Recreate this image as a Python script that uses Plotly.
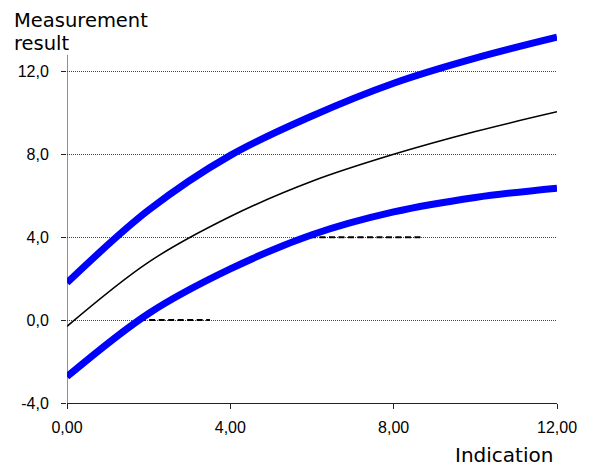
import plotly.graph_objects as go

# Data
indication = [0, 2, 4, 6, 8, 10, 12]
upper_limit = [1.8, 5.31, 7.95, 9.85, 11.43, 12.64, 13.65]
mean_curve = [-0.3, 2.8, 5.0, 6.7, 8.0, 9.1, 10.05]
lower_limit = [-2.73, 0.32, 2.47, 4.12, 5.22, 5.92, 6.37]

dash_low_x = [1.78, 3.5]
dash_low_y = [0.0, 0.0]
dash_high_x = [5.95, 8.7]
dash_high_y = [4.0, 4.0]

y_ticks = [-4, 0, 4, 8, 12]
y_ticktext = ["-4,0", "0,0", "4,0", "8,0", "12,0"]
x_ticks = [0, 4, 8, 12]
x_ticktext = ["0,00", "4,00", "8,00", "12,00"]

fig = go.Figure()
fig.add_trace(go.Scatter(x=dash_low_x, y=dash_low_y, mode="lines",
                         line=dict(color="black", width=2, dash="6px,3.5px")))
fig.add_trace(go.Scatter(x=dash_high_x, y=dash_high_y, mode="lines",
                         line=dict(color="black", width=2, dash="6px,3.5px")))
fig.add_trace(go.Scatter(x=indication, y=mean_curve, mode="lines",
                         line=dict(color="black", width=1.5, shape="spline")))
fig.add_trace(go.Scatter(x=indication, y=upper_limit, mode="lines",
                         line=dict(color="#0000FF", width=7, shape="spline")))
fig.add_trace(go.Scatter(x=indication, y=lower_limit, mode="lines",
                         line=dict(color="#0000FF", width=7, shape="spline")))

fig.add_shape(type="line", xref="x", yref="y", x0=0, x1=0, y0=-4, y1=12.8,
              line=dict(color="#222222", width=1))

fig.update_layout(
    width=589, height=468,
    margin=dict(l=67, r=32, t=30, b=65),
    plot_bgcolor="white", paper_bgcolor="white",
    showlegend=False,
    font=dict(family="Liberation Sans, Arial, sans-serif", size=16, color="black"),
    xaxis=dict(range=[0, 12], tickvals=x_ticks, ticktext=x_ticktext,
               showgrid=False, zeroline=False, showline=True,
               linecolor="#222222", linewidth=1,
               ticks="outside", ticklen=5, tickcolor="#222222",
               ticklabelstandoff=5),
    yaxis=dict(range=[-4, 14], tickvals=y_ticks, ticktext=y_ticktext,
               showgrid=True, gridcolor="#444444", griddash="1px,1px", gridwidth=1,
               zeroline=False, showline=False,
               ticks="outside", ticklen=5, tickcolor="#222222",
               ticklabelstandoff=9),
    annotations=[
        dict(text="Measurement", xref="paper", yref="paper",
             x=(12 - 67) / 490, y=(403 - 7) / 373, xanchor="left", yanchor="top",
             showarrow=False, font=dict(family="DejaVu Sans, Verdana", size=19.5)),
        dict(text="result", xref="paper", yref="paper",
             x=(12 - 67) / 490, y=(403 - 30) / 373, xanchor="left", yanchor="top",
             showarrow=False, font=dict(family="DejaVu Sans, Verdana", size=19.5)),
        dict(text="Indication", xref="paper", yref="paper",
             x=(554 - 67) / 490, y=(403 - 467.5) / 373, xanchor="right", yanchor="bottom",
             borderpad=0,
             showarrow=False, font=dict(family="DejaVu Sans, Verdana", size=20)),
    ],
)

# remove the page's default body margin so the figure sits at the top-left corner
fig.write_html("out.html",
               config={"displayModeBar": False, "staticPlot": True},
               post_script="document.body.style.margin='0';document.body.style.overflow='hidden';")
